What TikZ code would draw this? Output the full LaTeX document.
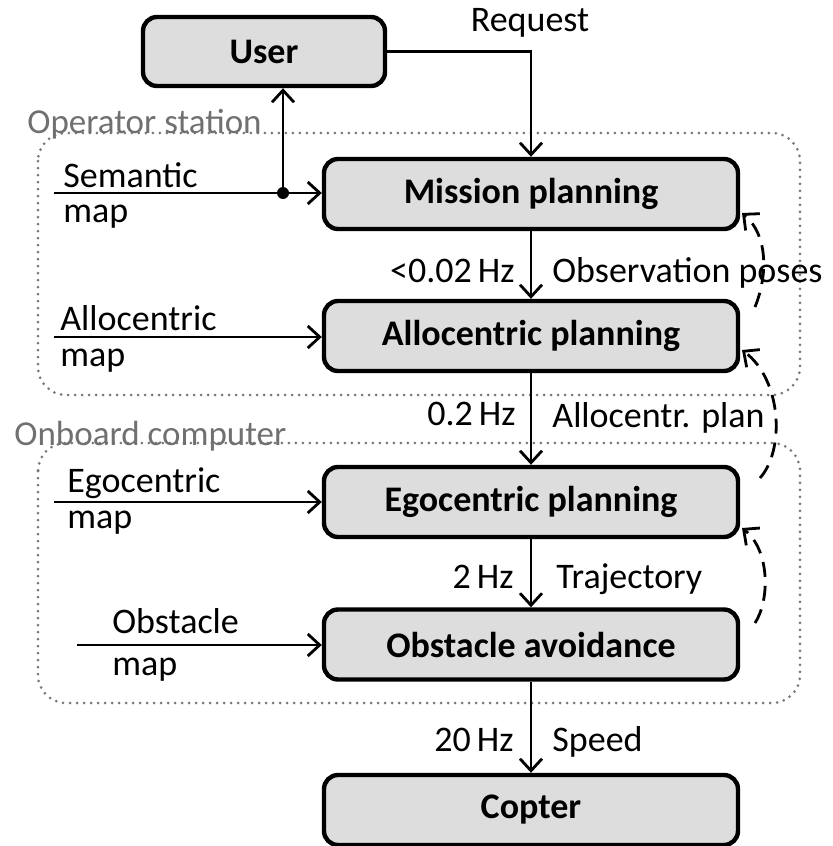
\documentclass[tikz,border=0pt]{standalone}
\usepackage{fontspec}
\setmainfont{Carlito}
\usetikzlibrary{arrows.meta}
\definecolor{boxgray}{RGB}{221,221,221}
\definecolor{dotgray}{RGB}{120,120,120}
\definecolor{zonegray}{RGB}{112,112,112}
\tikzset{
  block/.style={draw, line width=2.2pt, rounded corners=7pt, fill=boxgray,
    minimum width=207pt, minimum height=35pt, inner sep=0pt,
    font=\fontsize{18}{22}\selectfont\bfseries},
  flow/.style={line width=1.4pt,
    -{Straight Barb[length=6pt,width=11pt,line width=1.4pt]}},
  feedback/.style={flow, dash pattern=on 7.5pt off 4.5pt},
  region/.style={draw=dotgray, line width=1.5pt, dash pattern=on 0pt off 3.5pt,
    line cap=round, rounded corners=14pt},
  lbl/.style={font=\fontsize{18}{22}\selectfont, inner sep=0pt},
  zone/.style={font=\fontsize{17.5}{21}\selectfont, inner sep=0pt, text=zonegray}
}
\begin{document}
\begin{tikzpicture}[x=0.5pt,y=-0.5pt]
\useasboundingbox (0,0) rectangle (833,846);

% dotted regions
\draw[region] (38,133) rectangle (800,395);
\draw[region] (38,443) rectangle (800,703);
\node[zone, anchor=base west] (opst) at (27,133) {Operator station};
\node[zone, anchor=base west] (onbd) at (14,445) {Onboard computer};

% blocks
\node[block, minimum width=121pt, minimum height=34.5pt] (user) at (264,51.5) {User};
\node[block] (mission) at (531,194) {Mission planning};
\node[block] (alloc) at (531,336) {Allocentric planning};
\node[block] (ego) at (531,502) {Egocentric planning};
\node[block] (obst) at (531,644.5) {Obstacle avoidance};
\node[block] (copter) at (531,810) {Copter};

% request from the user
\draw[flow] (user.east) -| (mission.north);
\node[lbl, anchor=base] (req) at (530,32) {Request};

% map inputs
\coordinate (semin) at (54,193);
\coordinate (junc) at (283,193);
\coordinate (allin) at (54,337);
\coordinate (egoin) at (54,502);
\coordinate (obsin) at (77,645);
\draw[flow] (semin) -- (semin -| mission.west);
\draw[flow] (junc) -- (junc |- user.south);
\fill (junc) circle[radius=3pt];
\draw[flow] (allin) -- (allin -| alloc.west);
\draw[flow] (egoin) -- (egoin -| ego.west);
\draw[flow] (obsin) -- (obsin -| obst.west);

\node[lbl, anchor=base west] (sem1) at (63,187) {Semantic};
\node[lbl, anchor=base west] (sem2) at (63,222) {map};
\node[lbl, anchor=base west] (all1) at (60,330) {Allocentric};
\node[lbl, anchor=base west] (all2) at (60,366) {map};
\node[lbl, anchor=base west] (ego1) at (67,492) {Egocentric};
\node[lbl, anchor=base west] (ego2) at (67,528) {map};
\node[lbl, anchor=base west] (obs1) at (112,633) {Obstacle};
\node[lbl, anchor=base west] (obs2) at (112,675) {map};

% planning chain
\draw[flow] (mission.south) -- (alloc.north);
\draw[flow] (alloc.south) -- (ego.north);
\draw[flow] (ego.south) -- (obst.north);
\draw[flow] (obst.south) -- (copter.north);

\node[lbl, anchor=base east] (f1) at (515,282) {<0.02\,Hz};
\node[lbl, anchor=base west] (d1) at (552,282) {Observation poses};
\node[lbl, anchor=base east] (f2) at (516,425) {0.2\,Hz};
\node[lbl, anchor=base west] (d2) at (552,427) {Allocentr. plan};
\node[lbl, anchor=base east] (f3) at (514,588) {2\,Hz};
\node[lbl, anchor=base west] (d3) at (556,588) {Trajectory};
\node[lbl, anchor=base east] (f4) at (514,751) {20\,Hz};
\node[lbl, anchor=base west] (d4) at (552,751) {Speed};

% feedback
\coordinate (fbA) at (755,307);
\coordinate (fbAt) at (742,213);
\coordinate (fbB) at (760,478);
\coordinate (fbBt) at (742,350);
\coordinate (fbC) at (755,623);
\coordinate (fbCt) at (742,528);
\draw[feedback] (fbA) .. controls (768,275) and (768,235) .. (fbAt);
\draw[feedback] (fbB) .. controls (785,450) and (782,380) .. (fbBt);
\draw[feedback] (fbC) .. controls (770,600) and (770,550) .. (fbCt);
\end{tikzpicture}
\end{document}
